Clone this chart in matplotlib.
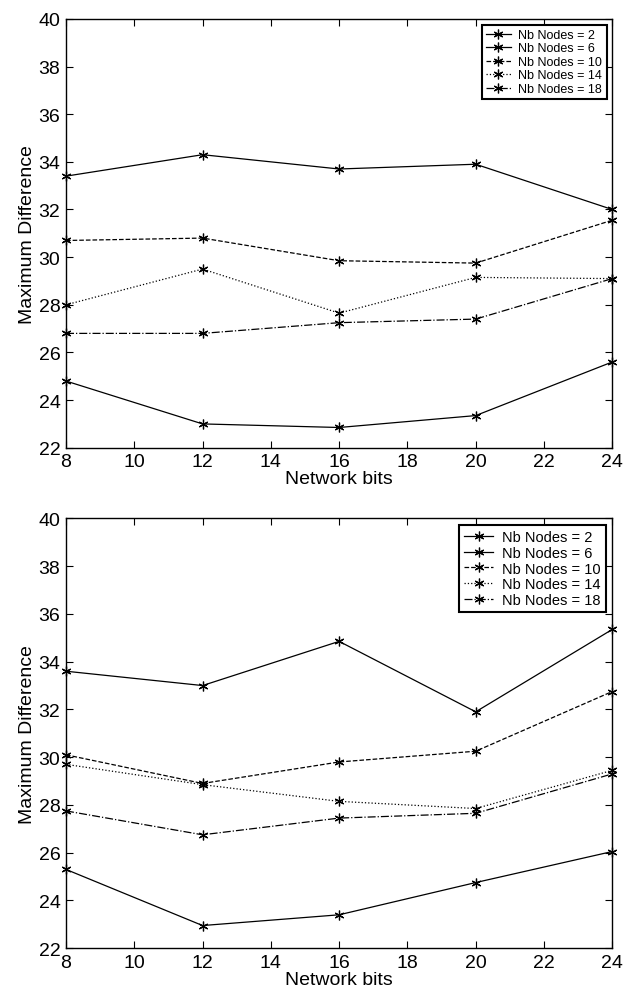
import matplotlib
matplotlib.use("Agg")
import matplotlib.pyplot as plt

plt.rcParams['font.family'] = ['Liberation Sans', 'DejaVu Sans']

bits = [8, 12, 16, 20, 24]
labels = ["Nb Nodes = 2", "Nb Nodes = 6", "Nb Nodes = 10", "Nb Nodes = 14", "Nb Nodes = 18"]
styles = ['-', '-', '--', ':', '-.']

top_n2 = [24.8, 23.0, 22.85, 23.35, 25.6]
top_n6 = [33.4, 34.3, 33.7, 33.9, 32.0]
top_n10 = [30.7, 30.8, 29.85, 29.75, 31.55]
top_n14 = [28.0, 29.5, 27.65, 29.15, 29.1]
top_n18 = [26.8, 26.8, 27.25, 27.4, 29.1]

bot_n2 = [25.3, 22.95, 23.4, 24.75, 26.05]
bot_n6 = [33.6, 33.0, 34.85, 31.9, 35.35]
bot_n10 = [30.1, 28.9, 29.8, 30.25, 32.75]
bot_n14 = [29.7, 28.85, 28.15, 27.85, 29.45]
bot_n18 = [27.75, 26.75, 27.45, 27.65, 29.3]

fig = plt.figure(figsize=(6.25, 9.95), dpi=100)
ax1 = fig.add_axes([0.1056, 0.549, 0.874, 0.431])
ax2 = fig.add_axes([0.1056, 0.046, 0.874, 0.432])

asterisk = (6, 2, 0)

def draw(ax, series, legfs):
    for ys, ls, lab in zip(series, styles, labels):
        ax.plot(bits, ys, linestyle=ls, color='black', linewidth=0.9,
                marker=asterisk, markersize=7, markeredgewidth=0.9, label=lab, clip_on=False)
    ax.set_xlim(8, 24)
    ax.set_ylim(22, 40)
    ax.set_xticks(range(8, 25, 2))
    ax.set_yticks(range(22, 41, 2))
    ax.tick_params(direction='in', top=True, right=True, labelsize=14, length=5, width=0.8)
    ax.tick_params(axis='x', pad=4)
    ax.tick_params(axis='y', pad=4)
    for s in ax.spines.values():
        s.set_linewidth(1.0)
    ax.set_xlabel("Network bits", fontsize=14, labelpad=0)
    ax.set_ylabel("Maximum Difference", fontsize=14, labelpad=2)
    leg = ax.legend(loc='upper right', fontsize=legfs, frameon=True, fancybox=False,
                    borderpad=0.35, labelspacing=0.12, handlelength=2.0,
                    handletextpad=0.6, borderaxespad=0.45, numpoints=1)
    leg.get_frame().set_edgecolor('black')
    leg.get_frame().set_linewidth(1.5)
    leg.get_frame().set_alpha(1)

draw(ax1, [top_n2, top_n6, top_n10, top_n14, top_n18], 9)
draw(ax2, [bot_n2, bot_n6, bot_n10, bot_n14, bot_n18], 10.5)

fig.savefig("out.png", dpi=100)
